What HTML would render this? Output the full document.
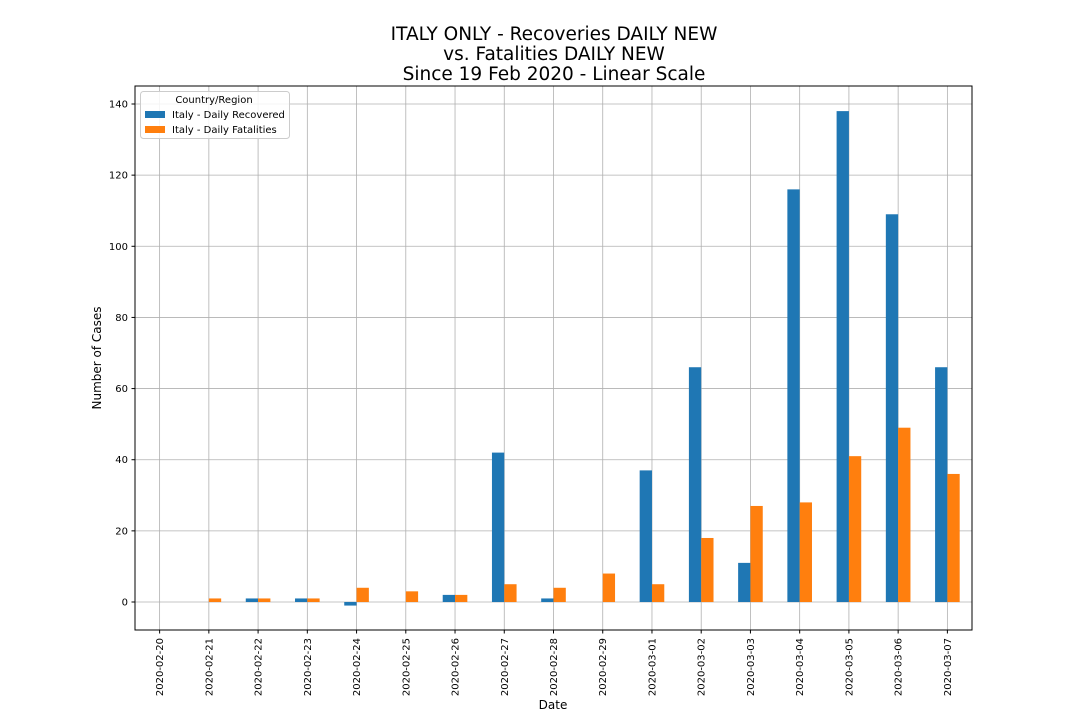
<!DOCTYPE html>
<html><head><meta charset="utf-8"><style>
body{margin:0;background:#fff;}
svg{display:block;font-family:"DejaVu Sans","Liberation Sans",sans-serif;}
</style></head><body>
<svg id="chart" width="1080" height="720">
<text x="554" y="40" font-size="18.5" text-anchor="middle">ITALY ONLY - Recoveries DAILY NEW</text>
<text x="554" y="60" font-size="18.5" text-anchor="middle">vs. Fatalities DAILY NEW</text>
<text x="554" y="80" font-size="18.5" text-anchor="middle">Since 19 Feb 2020 - Linear Scale</text>
<text x="553" y="709" font-size="12" text-anchor="middle">Date</text>
<text x="101" y="358" font-size="12" text-anchor="middle" transform="rotate(-90 101 358)">Number of Cases</text>
<g id="grid"></g><g id="bars"></g><g id="axes"></g>
</svg>
<script>
const categories=["2020-02-20","2020-02-21","2020-02-22","2020-02-23","2020-02-24","2020-02-25","2020-02-26","2020-02-27","2020-02-28","2020-02-29","2020-03-01","2020-03-02","2020-03-03","2020-03-04","2020-03-05","2020-03-06","2020-03-07"];
const recovered=[0,0,1,1,-1,0,2,42,1,0,37,66,11,116,138,109,66];
const fatalities=[0,1,1,1,4,3,2,5,4,8,5,18,27,28,41,49,36];
const yTicks=[0,20,40,60,80,100,120,140];
const NS="http://www.w3.org/2000/svg";
const L=135,R=972,T=86,B=630,yMin=-7.87,yMax=145.06;
const step=(R-L)/categories.length;
function xs(i){return L+step*(i+0.5);}
function ys(v){return B-(v-yMin)/(yMax-yMin)*(B-T);}
function mk(tag,attrs,parent){const e=document.createElementNS(NS,tag);for(const k in attrs)e.setAttribute(k,attrs[k]);parent.appendChild(e);return e;}
const grid=document.getElementById('grid'),bars=document.getElementById('bars'),axes=document.getElementById('axes');
yTicks.forEach(v=>{
 const l=mk('line',{x1:L,x2:R,y1:ys(v),y2:ys(v),stroke:'#b0b0b0','stroke-width':0.8},grid);
 
 
 mk('line',{x1:L-3.5,x2:L,y1:ys(v),y2:ys(v),stroke:'#000'},axes);
 const t=mk('text',{x:L-7,y:ys(v)+3.5,'font-size':10,'text-anchor':'end'},axes);
 t.textContent=v;
 
 
});
const bw=step*0.25;
categories.forEach((c,i)=>{
 const x=xs(i);
 const g=mk('line',{x1:x,x2:x,y1:T,y2:B,stroke:'#b0b0b0','stroke-width':0.8},grid);
 
 
 mk('line',{x1:x,x2:x,y1:B,y2:B+3.5,stroke:'#000'},axes);
 const t=mk('text',{x:x+3.5,y:B+8,'font-size':10,'text-anchor':'end',transform:`rotate(-90 ${x+3.5} ${B+8})`},axes);
 t.textContent=c;
 
 
 const v1=recovered[i],v2=fatalities[i];
 const b1=mk('rect',{x:x-bw,y:Math.min(ys(v1),ys(0)),width:bw,height:Math.abs(ys(v1)-ys(0)),fill:'#1f77b4'},bars);
 
 
 const b2=mk('rect',{x:x,y:Math.min(ys(v2),ys(0)),width:bw,height:Math.abs(ys(v2)-ys(0)),fill:'#ff7f0e'},bars);
 
 
});
const f=mk('rect',{x:L,y:T,width:R-L,height:B-T,fill:'none',stroke:'#000','stroke-width':1},axes);


const lg=mk('g',{},axes);


mk('rect',{x:140.5,y:91.5,width:149,height:47,rx:3,fill:'#fff','fill-opacity':0.85,stroke:'#ccc'},lg);
const lt=mk('text',{x:214,y:103,'font-size':10,'text-anchor':'middle'},lg);lt.textContent='Country/Region';
const e1=mk('rect',{x:145,y:111,width:20,height:7,fill:'#1f77b4'},lg);


const t1=mk('text',{x:172,y:118,'font-size':10},lg);t1.textContent='Italy - Daily Recovered';
const e2=mk('rect',{x:145,y:126,width:20,height:7,fill:'#ff7f0e'},lg);


const t2=mk('text',{x:172,y:133,'font-size':10},lg);t2.textContent='Italy - Daily Fatalities';
</script>
</body></html>
